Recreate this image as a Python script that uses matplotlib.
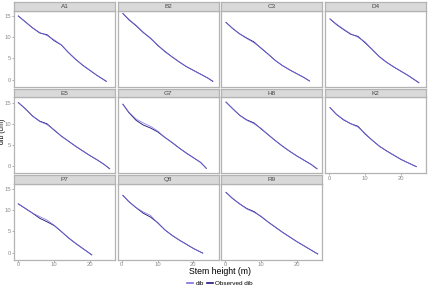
import matplotlib
matplotlib.use("Agg")
import matplotlib.pyplot as plt
from matplotlib.lines import Line2D

plt.rcParams["font.family"] = ["Liberation Sans", "DejaVu Sans"]

# =====================================
# Data
# =====================================

trees = ["A1", "B2", "C3", "D4", "E5", "G7", "H8", "K2", "P7", "Q8", "R9"]

height_A1 = [0, 2, 4, 6, 8, 10, 12, 14, 16, 18, 20, 22, 24.6]
dib_A1 = [15.0, 13.6, 12.2, 11.1, 10.4, 9.4, 8.2, 6.4, 4.8, 3.4, 2.2, 1.0, -0.4]
obs_A1 = [15.0, 13.6, 12.2, 11.0, 10.6, 9.2, 8.2, 6.4, 4.8, 3.4, 2.2, 1.0, -0.4]

height_B2 = [0.3, 2, 4, 6, 8, 10, 12, 14, 16, 18, 20, 22, 24, 25.4]
dib_B2 = [15.6, 14.2, 12.8, 11.2, 9.7, 8.2, 6.6, 5.4, 4.2, 3.1, 2.2, 1.3, 0.4, -0.3]
obs_B2 = [15.6, 14.1, 12.7, 11.1, 9.8, 8.1, 6.7, 5.4, 4.2, 3.1, 2.2, 1.3, 0.4, -0.4]

height_C3 = [0.2, 2, 4, 6, 8, 10, 12, 14, 16, 18, 20, 22, 23.5]
dib_C3 = [13.5, 12.1, 10.8, 9.7, 8.7, 7.5, 6.0, 4.5, 3.3, 2.3, 1.4, 0.5, -0.3]
obs_C3 = [13.5, 12.1, 10.8, 9.8, 8.9, 7.4, 6.0, 4.5, 3.3, 2.3, 1.4, 0.5, -0.3]

height_D4 = [0.2, 2, 4, 6, 8, 10, 12, 14, 16, 18, 20, 22, 25]
dib_D4 = [14.3, 13.1, 11.9, 10.8, 10.0, 8.9, 7.1, 5.4, 4.1, 3.0, 2.0, 1.0, -0.7]
obs_D4 = [14.3, 13.0, 11.8, 10.7, 10.2, 8.7, 7.1, 5.4, 4.1, 3.0, 2.0, 1.0, -0.7]

height_E5 = [0, 2, 4, 6, 8, 10, 12, 14, 16, 18, 20, 22, 24, 25.5]
dib_E5 = [15.0, 13.5, 11.8, 10.5, 9.8, 8.6, 7.1, 5.9, 4.7, 3.6, 2.5, 1.5, 0.4, -0.6]
obs_E5 = [15.0, 13.5, 11.8, 10.6, 10.0, 8.5, 7.1, 5.9, 4.7, 3.6, 2.5, 1.5, 0.4, -0.6]

height_G7 = [0.3, 2, 4, 6, 8, 10, 12, 14, 16, 18, 20, 22, 23.6]
dib_G7 = [14.6, 12.7, 11.1, 10.2, 9.4, 8.3, 6.8, 5.6, 4.3, 3.1, 2.0, 0.9, -0.5]
obs_G7 = [14.6, 12.6, 10.8, 9.7, 9.0, 8.1, 6.8, 5.6, 4.3, 3.1, 2.0, 0.9, -0.5]

height_H8 = [0.2, 2, 4, 6, 8, 10, 12, 14, 16, 18, 20, 22, 24, 25.6]
dib_H8 = [15.1, 13.6, 12.0, 10.8, 10.0, 8.9, 7.4, 6.0, 4.7, 3.5, 2.4, 1.4, 0.4, -0.6]
obs_H8 = [15.1, 13.6, 12.0, 10.9, 10.2, 8.8, 7.4, 6.0, 4.7, 3.5, 2.4, 1.4, 0.4, -0.6]

height_K2 = [0.2, 2, 4, 6, 8, 10, 12, 14, 16, 18, 20, 22, 24.3]
dib_K2 = [13.8, 12.2, 11.0, 10.0, 9.2, 7.7, 6.1, 4.7, 3.6, 2.6, 1.6, 0.8, -0.1]
obs_K2 = [13.8, 12.2, 10.9, 10.0, 9.4, 7.6, 6.1, 4.7, 3.6, 2.6, 1.6, 0.8, -0.1]

height_P7 = [0, 2, 4, 6, 8, 10, 12, 14, 16, 18, 20.5]
dib_P7 = [11.5, 10.4, 9.3, 8.5, 7.7, 6.5, 5.0, 3.5, 2.2, 1.0, -0.5]
obs_P7 = [11.5, 10.4, 9.3, 8.1, 7.3, 6.4, 5.0, 3.5, 2.2, 1.0, -0.5]

height_Q8 = [0.3, 2, 4, 6, 8, 10, 12, 14, 16, 18, 20, 22.6]
dib_Q8 = [13.5, 12.0, 10.6, 9.6, 8.8, 7.0, 5.4, 4.1, 3.0, 2.0, 1.0, -0.1]
obs_Q8 = [13.5, 12.0, 10.6, 9.3, 8.4, 7.1, 5.4, 4.1, 3.0, 2.0, 1.0, -0.1]

height_R9 = [0.2, 2, 4, 6, 8, 10, 12, 14, 16, 18, 20, 22, 24, 25.8]
dib_R9 = [14.2, 12.8, 11.5, 10.3, 9.5, 8.6, 7.2, 6.0, 4.8, 3.7, 2.6, 1.6, 0.6, -0.3]
obs_R9 = [14.2, 12.8, 11.5, 10.4, 9.7, 8.5, 7.2, 6.0, 4.8, 3.7, 2.6, 1.6, 0.6, -0.3]

heights = [height_A1, height_B2, height_C3, height_D4, height_E5, height_G7,
           height_H8, height_K2, height_P7, height_Q8, height_R9]
dibs = [dib_A1, dib_B2, dib_C3, dib_D4, dib_E5, dib_G7,
        dib_H8, dib_K2, dib_P7, dib_Q8, dib_R9]
observed = [obs_A1, obs_B2, obs_C3, obs_D4, obs_E5, obs_G7,
            obs_H8, obs_K2, obs_P7, obs_Q8, obs_R9]

x_ticks = [0, 10, 20]
y_ticks = [0, 5, 10, 15]

# =====================================
# Styling
# =====================================

W, H = 429, 290
dib_color = "#7B70E0"
obs_color = "#20187A"
border = "#B3B3B3"
tick_color = "#8C8C8C"

col_left = [14, 117.5, 221, 325]
col_width = 101
row_top = [10.5, 97, 183.5]
row_height = 76
strip_height = 8.5

fig = plt.figure(figsize=(W / 100, H / 100), dpi=100)
fig.patch.set_facecolor("white")


def frac_box(left, top, width, height):
    return [left / W, 1 - (top + height) / H, width / W, height / H]


# =====================================
# Panels
# =====================================

for i, name in enumerate(trees):
    row, col = divmod(i, 4)

    ax = fig.add_axes(frac_box(col_left[col], row_top[row], col_width, row_height))
    ax.plot(heights[i], observed[i], color=obs_color, lw=0.65, zorder=2)
    ax.plot(heights[i], dibs[i], color=dib_color, lw=0.6, alpha=0.85, zorder=3)

    ax.set_xlim(-1.2, 27)
    ax.set_ylim(-1.6, 16.3)
    ax.set_xticks(x_ticks)
    ax.set_yticks(y_ticks)

    for s in ax.spines.values():
        s.set_color(border)
        s.set_linewidth(0.9)

    ax.tick_params(length=1.2, width=0.5, color=tick_color,
                   labelsize=4.2, labelcolor=tick_color, pad=0.8)

    # y labels only on the left column, x labels only at the bottom of each column
    if col != 0:
        ax.tick_params(labelleft=False, left=False)
    bottom_of_col = (i + 4 >= len(trees))
    if not bottom_of_col:
        ax.tick_params(labelbottom=False, bottom=False)

    # strip
    sax = fig.add_axes(frac_box(col_left[col], row_top[row] - strip_height,
                                col_width, strip_height))
    sax.set_facecolor("#D9D9D9")
    sax.set_xticks([])
    sax.set_yticks([])
    for s in sax.spines.values():
        s.set_color(border)
        s.set_linewidth(0.9)
    sax.text(0.5, 0.45, name, ha="center", va="center",
             fontsize=4.6, color="#444444", transform=sax.transAxes)

# =====================================
# Axis titles and legend
# =====================================

fig.text(220 / W, 1 - 271.5 / H, "Stem height (m)", ha="center", va="center",
         fontsize=6.3)
fig.text(2.6 / W, 1 - 131 / H, "dib (cm)", ha="center", va="center",
         fontsize=5, rotation=90)

handles = [Line2D([], [], color=dib_color, lw=1.2),
           Line2D([], [], color=obs_color, lw=1.2)]
fig.legend(handles, ["dib", "Observed dib"], loc="center",
           bbox_to_anchor=(220 / W, 1 - 283.5 / H), ncol=2, frameon=False,
           fontsize=4.6, handlelength=1.0, handletextpad=0.3,
           columnspacing=0.5)

fig.savefig("out.png", dpi=100)
